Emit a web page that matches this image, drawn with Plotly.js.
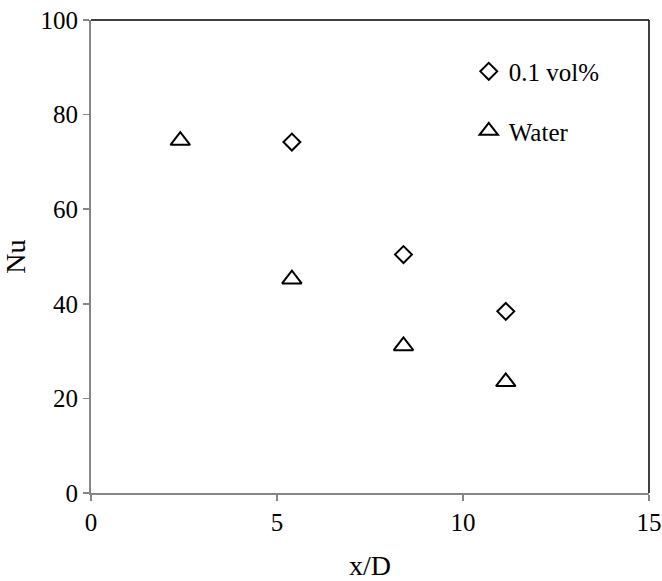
<!DOCTYPE html>
<html>
<head>
<meta charset="utf-8">
<script src="https://cdn.plot.ly/plotly-3.0.1.min.js"></script>
<style>html,body{margin:0;padding:0;background:#fff;}#chart{width:662px;height:581px;}</style>
</head>
<body>
<div id="chart"></div>
<script>
var nfX = [5.4, 8.4, 11.15];
var nfNu = [74.2, 50.4, 38.4];
var waterX = [2.4, 5.4, 8.4, 11.15];
var waterNu = [74.5, 45.2, 31.1, 23.5];
var seriesNames = ["0.1 vol%", "Water"];
var xTicks = [0, 5, 10, 15];
var yTicks = [0, 20, 40, 60, 80, 100];

var font = "'Liberation Serif', 'Times New Roman', serif";

var traces = [
  {x: nfX, y: nfNu, name: seriesNames[0], mode: "markers", type: "scatter", legendgroup: "a",
   marker: {symbol: "diamond-open", size: 13, color: "#000", line: {width: 2, color: "#000"}}},
  {x: waterX, y: waterNu, name: seriesNames[1], mode: "markers", type: "scatter", legendgroup: "b",
   marker: {symbol: "triangle-up-open", size: 17, color: "#000", line: {width: 2, color: "#000"}}}
];

var layout = {
  width: 662, height: 581,
  margin: {l: 91, r: 13, t: 20, b: 88},
  paper_bgcolor: "#fff", plot_bgcolor: "#fff",
  font: {family: font, color: "#000", size: 25},
  showlegend: true,
  legend: {x: 0.677, y: 0.9395, xanchor: "left", yanchor: "top", bgcolor: "rgba(0,0,0,0)",
           font: {family: font, size: 25, color: "#000"}, traceorder: "grouped", tracegroupgap: 24, itemwidth: 30},
  xaxis: {range: [0, 15], tickvals: xTicks, ticktext: xTicks.map(String), showgrid: false, zeroline: false,
          showline: true, linecolor: "#868686", linewidth: 2, ticks: "outside", ticklen: 6, tickcolor: "#868686", tickwidth: 1.5,
          tickfont: {family: font, size: 25, color: "#000"},
          title: {text: "x/D", font: {family: font, size: 28, color: "#000"}}},
  yaxis: {range: [0, 100], tickvals: yTicks, ticktext: yTicks.map(String), showgrid: false, zeroline: false,
          showline: true, linecolor: "#868686", linewidth: 2, ticks: "outside", ticklen: 6, tickcolor: "#868686", tickwidth: 1.5,
          tickfont: {family: font, size: 25, color: "#000"},
          title: {text: "Nu", font: {family: font, size: 28, color: "#000"}}},
  shapes: [
    {type: "line", xref: "paper", yref: "paper", x0: 0, x1: 1, y0: 1, y1: 1, line: {color: "#000", width: 1.5}},
    {type: "line", xref: "paper", yref: "paper", x0: 1, x1: 1, y0: 0, y1: 1, line: {color: "#000", width: 1.5}}
  ]
};

Plotly.newPlot("chart", traces, layout, {displayModeBar: false, staticPlot: true});
</script>
</body>
</html>
